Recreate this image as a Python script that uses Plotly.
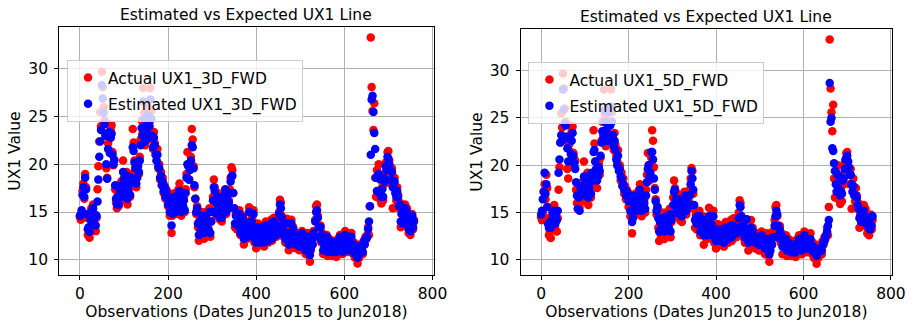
import plotly.graph_objects as go

obs = list(range(0, 760, 2))

# Actual UX1 value
actual_ux1 = [
    14.5, 14.2, 15.0, 17.2, 18.0, 16.4, 19.0, 17.6, 14.4, 12.6,
    13.0, 12.3, 14.2, 15.4, 14.6, 15.8, 13.6, 14.8, 13.0, 14.4,
    17.4, 19.8, 22.4, 25.5, 24.0, 29.7, 28.1, 26.0, 24.6, 23.0,
    19.6, 18.6, 22.2, 24.2, 21.4, 23.6, 24.1, 21.3, 19.9, 20.5,
    17.4, 16.0, 15.4, 16.8, 15.6, 17.8, 16.4, 18.2, 16.9, 20.4,
    18.6, 16.2, 17.6, 19.2, 15.8, 17.2, 18.4, 16.6, 19.0, 18.0,
    23.7, 22.3, 20.4, 19.6, 17.6, 18.8, 20.2, 19.0, 20.8, 22.6,
    24.6, 23.2, 28.0, 25.4, 22.0, 24.8, 23.4, 26.0, 22.6, 24.4,
    28.0, 25.6, 23.0, 21.6, 23.4, 22.2, 21.0, 20.4, 21.6, 19.6,
    20.0, 18.4, 19.2, 17.8, 18.6, 17.0, 17.8, 16.4, 17.4, 16.6,
    15.6, 17.0, 14.6, 16.2, 12.8, 14.6, 16.8, 15.4, 17.0, 14.8,
    16.6, 15.0, 17.4, 18.0, 16.0, 14.6, 17.2, 15.6, 16.4, 15.0,
    17.4, 19.0, 21.3, 20.0, 18.4, 19.6, 20.8, 23.7, 22.6, 19.8,
    17.6, 16.4, 14.8, 15.6, 13.4, 12.0, 14.2, 12.6, 15.0, 13.4,
    14.6, 12.2, 13.8, 15.0, 12.6, 14.2, 13.0, 15.4, 12.4, 14.0,
    15.2, 16.6, 18.4, 17.6, 16.2, 14.6, 17.0, 15.4, 16.4, 14.2,
    15.8, 14.0, 16.6, 15.0, 17.2, 16.0, 14.8, 16.8, 15.4, 16.2,
    17.4, 18.6, 19.7, 19.4, 17.0, 15.4, 13.4, 14.8, 13.2, 15.0,
    13.8, 15.2, 12.6, 14.4, 13.2, 14.6, 11.6, 13.6, 12.4, 14.0,
    12.2, 13.0, 15.5, 13.6, 12.4, 14.4, 13.0, 15.2, 11.8, 13.2,
    11.2, 12.6, 13.8, 12.0, 13.2, 11.6, 12.8, 13.6, 12.2, 11.4,
    12.8, 14.0, 12.4, 13.4, 11.8, 13.8, 12.6, 14.2, 12.0, 13.4,
    14.4, 12.8, 13.6, 12.4, 14.0, 13.2, 15.0, 16.3, 16.0, 14.6,
    13.2, 12.4, 14.0, 11.8, 12.8, 14.3, 12.2, 11.0, 13.0, 12.0,
    14.2, 12.6, 13.4, 11.6, 12.4, 11.2, 12.8, 11.8, 12.4, 11.0,
    12.6, 11.4, 13.0, 12.2, 11.0, 12.4, 10.6, 11.8, 12.8, 11.2,
    10.4, 9.8, 11.0, 12.2, 11.6, 13.0, 12.4, 14.2, 15.6, 15.8,
    14.6, 13.4, 12.2, 13.6, 11.8, 12.8, 10.6, 11.6, 12.4, 11.2,
    12.6, 10.4, 11.8, 12.2, 10.8, 11.4, 10.4, 12.0, 11.0, 10.6,
    11.8, 10.3, 11.2, 12.2, 11.0, 12.6, 10.8, 11.6, 10.6, 11.8,
    12.6, 13.0, 11.8, 12.4, 10.8, 11.6, 12.2, 11.0, 12.8, 11.4,
    10.6, 11.8, 10.2, 11.2, 10.4, 9.6, 11.0, 10.2, 11.6, 10.8,
    11.4, 10.6, 12.0, 11.6, 12.4, 12.2, 12.6, 13.4, 12.6, 15.6,
    33.3, 28.1, 25.6, 23.6, 26.4, 18.6, 16.6, 19.4, 17.2, 20.0,
    16.4, 18.8, 15.9, 17.6, 16.2, 19.0, 18.0, 20.2, 19.4, 21.3,
    21.4, 20.4, 19.2, 18.0, 19.6, 15.4, 17.8, 18.6, 17.0, 16.2,
    17.6, 16.8, 15.4, 16.0, 13.4, 14.8, 13.6, 15.2, 14.2, 15.8,
    13.6, 15.4, 14.0, 12.8, 14.6, 12.6, 13.4, 14.8, 13.2, 14.2,
]

# Estimated UX1, 3-day forward model
estimated_3d = [
    14.6, 14.6, 15.2, 16.8, 17.6, 16.6, 18.6, 17.4, 14.8, 13.2,
    13.4, 12.9, 14.2, 15.0, 14.6, 15.4, 14.0, 14.6, 13.6, 14.6,
    16.1, 18.4, 20.8, 22.4, 23.6, 28.3, 26.9, 25.4, 24.2, 23.0,
    20.0, 18.5, 21.6, 23.4, 21.2, 22.8, 23.2, 21.0, 20.0, 20.4,
    17.8, 16.4, 15.8, 16.6, 15.8, 17.4, 16.6, 17.8, 17.0, 19.2,
    18.4, 16.6, 17.4, 18.8, 16.4, 17.4, 18.0, 16.8, 18.6, 18.2,
    21.8, 21.4, 20.2, 19.6, 18.0, 18.6, 19.8, 19.2, 20.4, 22.0,
    23.8, 23.0, 26.6, 24.8, 22.4, 24.2, 23.4, 25.2, 22.8, 24.0,
    26.8, 24.8, 23.0, 21.8, 22.8, 22.0, 21.0, 20.4, 21.0, 19.8,
    19.6, 18.6, 18.8, 17.8, 18.2, 17.2, 17.6, 16.6, 17.2, 16.6,
    15.8, 16.6, 15.0, 16.0, 13.6, 14.8, 16.4, 15.6, 16.6, 15.0,
    16.4, 15.2, 17.0, 17.2, 16.0, 15.0, 16.8, 15.6, 16.2, 15.2,
    17.0, 18.6, 20.0, 19.8, 18.4, 19.4, 20.4, 22.0, 21.8, 19.6,
    17.8, 16.4, 15.0, 15.4, 13.8, 12.6, 14.0, 13.0, 14.6, 13.6,
    14.4, 12.8, 13.6, 14.6, 13.0, 14.0, 13.2, 15.0, 12.8, 14.0,
    15.0, 16.2, 17.6, 17.2, 16.0, 14.8, 16.6, 15.4, 16.0, 14.4,
    15.6, 14.4, 16.2, 15.0, 16.8, 17.4, 15.0, 16.4, 15.4, 16.0,
    17.0, 18.2, 18.7, 18.8, 17.0, 15.4, 13.8, 14.6, 13.6, 14.8,
    13.8, 14.8, 12.8, 14.2, 13.2, 14.4, 12.2, 13.4, 12.6, 13.8,
    12.4, 13.0, 15.0, 13.6, 12.6, 14.0, 13.0, 14.8, 12.2, 13.2,
    11.8, 12.6, 13.4, 12.2, 13.0, 11.8, 12.8, 13.4, 12.2, 11.8,
    12.8, 13.6, 12.4, 13.2, 12.0, 13.6, 12.6, 13.8, 12.2, 13.2,
    14.0, 12.8, 13.4, 12.6, 13.6, 13.2, 14.8, 15.8, 15.4, 14.4,
    13.4, 12.6, 13.8, 12.2, 12.8, 13.8, 12.4, 11.6, 12.8, 12.0,
    13.8, 12.6, 13.2, 11.8, 12.4, 11.6, 12.6, 12.0, 12.4, 11.4,
    12.4, 11.6, 12.8, 12.2, 11.4, 12.2, 11.0, 11.8, 12.4, 11.4,
    10.8, 10.5, 11.2, 12.0, 11.6, 12.8, 12.4, 14.0, 15.0, 15.2,
    14.4, 13.4, 12.4, 13.4, 12.0, 12.6, 11.0, 11.6, 12.2, 11.4,
    12.4, 10.8, 11.6, 12.0, 11.0, 11.4, 10.8, 11.8, 11.0, 10.8,
    11.6, 10.8, 11.2, 12.0, 11.2, 12.4, 11.0, 11.6, 10.8, 11.6,
    12.4, 12.6, 11.8, 12.2, 11.0, 11.6, 12.0, 11.2, 12.4, 11.4,
    10.8, 11.6, 10.6, 11.2, 10.6, 10.2, 11.0, 10.6, 11.4, 10.8,
    11.4, 10.8, 11.8, 11.6, 12.2, 12.2, 12.4, 13.2, 14.0, 15.6,
    21.0, 26.8, 27.2, 25.5, 23.3, 21.6, 18.6, 17.2, 18.8, 19.0,
    17.0, 18.4, 16.6, 17.4, 16.6, 18.6, 18.2, 19.8, 19.4, 20.8,
    20.6, 20.0, 19.4, 18.4, 19.2, 17.6, 17.6, 18.2, 17.0, 16.6,
    17.2, 16.6, 15.6, 15.8, 14.0, 14.8, 13.8, 15.0, 14.2, 15.4,
    13.8, 15.0, 14.0, 13.2, 14.4, 13.0, 13.6, 14.6, 13.4, 14.0,
]

# Estimated UX1, 5-day forward model
estimated_5d = [
    14.8, 15.2, 16.4, 17.2, 19.2, 17.0, 18.0, 15.6, 13.8, 13.4,
    13.8, 13.4, 14.2, 15.0, 14.8, 15.2, 13.8, 14.6, 14.2, 15.2,
    19.2, 20.6, 22.4, 23.2, 22.6, 28.0, 25.9, 24.4, 24.2, 23.0,
    21.8, 20.4, 22.8, 23.0, 21.2, 22.6, 23.4, 21.0, 20.2, 19.6,
    18.2, 16.8, 15.4, 16.6, 15.2, 17.6, 16.8, 17.8, 17.2, 18.8,
    18.6, 16.8, 17.2, 18.8, 16.6, 17.6, 18.2, 17.0, 19.2, 18.4,
    21.4, 21.6, 20.4, 19.6, 18.4, 18.8, 19.8, 19.4, 21.0, 22.4,
    23.6, 22.8, 25.8, 24.6, 22.6, 23.8, 23.2, 25.6, 22.6, 24.2,
    26.2, 24.6, 23.2, 22.0, 22.6, 21.6, 20.6, 20.0, 21.0, 19.4,
    19.6, 18.8, 18.6, 17.8, 18.0, 17.4, 17.4, 16.8, 17.2, 16.8,
    16.2, 16.8, 15.2, 16.2, 14.0, 14.4, 16.6, 15.8, 16.8, 15.2,
    16.6, 15.4, 16.8, 17.4, 16.2, 15.2, 16.6, 15.8, 16.0, 15.4,
    16.8, 18.2, 19.6, 20.0, 18.8, 19.2, 21.4, 21.4, 20.6, 18.6,
    17.4, 16.2, 15.2, 15.6, 14.4, 13.0, 14.0, 13.2, 14.4, 13.8,
    14.2, 13.0, 13.4, 14.6, 13.2, 13.8, 13.4, 14.8, 13.0, 14.2,
    14.8, 15.8, 17.2, 17.4, 16.4, 15.0, 16.4, 15.6, 15.8, 14.8,
    15.4, 14.6, 16.0, 15.2, 16.6, 16.8, 15.2, 16.2, 15.6, 15.8,
    16.8, 18.0, 19.4, 18.6, 17.4, 15.8, 14.2, 14.4, 13.8, 14.6,
    14.0, 14.6, 13.0, 14.0, 13.4, 14.2, 12.6, 13.2, 12.8, 13.6,
    12.6, 12.8, 14.6, 13.8, 12.8, 13.8, 13.2, 14.6, 12.4, 13.0,
    12.0, 12.4, 13.2, 12.4, 12.8, 12.0, 12.6, 13.2, 12.4, 11.8,
    12.6, 13.4, 12.6, 13.0, 12.2, 13.4, 12.8, 13.6, 12.4, 13.0,
    13.6, 13.0, 13.2, 12.8, 13.4, 13.2, 14.4, 15.8, 15.6, 14.6,
    13.6, 12.8, 13.6, 12.4, 12.8, 14.3, 12.6, 11.8, 12.6, 12.2,
    13.4, 12.8, 13.0, 12.0, 12.4, 11.8, 12.4, 12.0, 12.2, 11.6,
    12.2, 11.8, 12.6, 12.2, 11.6, 12.0, 11.2, 11.6, 12.2, 11.6,
    11.0, 10.6, 11.0, 11.8, 11.6, 12.4, 12.4, 13.6, 14.6, 15.2,
    14.8, 13.6, 12.6, 13.2, 12.2, 12.6, 11.4, 11.6, 12.0, 11.6,
    12.2, 11.0, 11.4, 11.8, 11.2, 11.2, 10.8, 11.6, 11.2, 10.8,
    11.4, 10.8, 11.0, 11.8, 11.4, 12.2, 11.2, 11.4, 11.0, 11.4,
    12.2, 12.6, 12.0, 12.0, 11.2, 11.4, 11.8, 11.4, 12.2, 11.6,
    11.0, 11.4, 10.8, 11.0, 10.8, 10.4, 10.8, 10.8, 11.2, 11.0,
    11.2, 11.0, 11.6, 11.8, 12.0, 12.4, 12.6, 13.0, 13.6, 14.2,
    28.7, 24.6, 25.0, 21.8, 21.5, 20.2, 19.4, 18.0, 17.2, 19.0,
    17.6, 18.8, 16.8, 17.2, 17.0, 18.4, 18.6, 19.6, 20.6, 20.8,
    21.0, 20.4, 19.8, 19.0, 19.0, 18.0, 17.2, 17.8, 16.8, 16.8,
    16.8, 16.6, 15.8, 15.4, 14.4, 14.6, 14.0, 14.8, 14.4, 15.2,
    14.0, 14.6, 14.2, 13.6, 14.2, 13.4, 13.2, 14.4, 13.6, 14.6,
]

title_text = "Estimated vs Expected UX1 Line"
x_label = "Observations (Dates Jun2015 to Jun2018)"
y_label = "UX1 Value"
x_ticks = [0, 200, 400, 600, 800]
y_ticks = [10, 15, 20, 25, 30]

FONT = "DejaVu Sans, Verdana, sans-serif"
FS = 15.5
W, H = 922, 322
MS = 8.5

fig = go.Figure()

panels = [
    ("x", "y", "legend", "Actual UX1_3D_FWD", "Estimated UX1_3D_FWD", estimated_3d),
    ("x2", "y2", "legend2", "Actual UX1_5D_FWD", "Estimated UX1_5D_FWD", estimated_5d),
]
for xa, ya, lg, an, en, est in panels:
    fig.add_trace(go.Scatter(
        x=obs, y=actual_ux1, mode="markers", name=an,
        marker=dict(color="#ff0000", size=MS, line=dict(width=0)),
        xaxis=xa, yaxis=ya, legend=lg, legendgroup=an,
    ))
    fig.add_trace(go.Scatter(
        x=obs, y=est, mode="markers", name=en,
        marker=dict(color="#0000ff", size=MS, line=dict(width=0)),
        xaxis=xa, yaxis=ya, legend=lg, legendgroup=en,
    ))

def px_x(p):
    return p / W

def px_y(p):
    return 1 - p / H

axis_common = dict(
    showgrid=True, gridcolor="#b0b0b0", gridwidth=0.8,
    showline=True, mirror=True, linecolor="#000000", linewidth=1,
    ticks="outside", ticklen=4, tickcolor="#000000",
    zeroline=False,
    tickfont=dict(family=FONT, size=FS, color="#000000"),
)

xr = [-47, 803]
yr = [8.4, 34.4]

fig.update_layout(
    width=W, height=H,
    margin=dict(l=0, r=0, t=0, b=0),
    paper_bgcolor="white", plot_bgcolor="white",
    font=dict(family=FONT, size=FS, color="#000000"),
    xaxis=dict(domain=[px_x(60), px_x(440)], range=xr, tickvals=x_ticks, anchor="y",
               title=dict(text=x_label, standoff=3, font=dict(size=FS)), **axis_common),
    yaxis=dict(domain=[px_y(275), px_y(27)], range=yr, tickvals=y_ticks, anchor="x",
               ticklabelstandoff=3,
               title=dict(text=y_label, standoff=3, font=dict(size=FS)), **axis_common),
    xaxis2=dict(domain=[px_x(528), px_x(905)], range=xr, tickvals=x_ticks, anchor="y2",
                title=dict(text=x_label, standoff=3, font=dict(size=FS)), **axis_common),
    yaxis2=dict(domain=[px_y(275), px_y(29)], range=yr, tickvals=y_ticks, anchor="x2",
                ticklabelstandoff=3,
                title=dict(text=y_label, standoff=3, font=dict(size=FS)), **axis_common),
    legend=dict(x=px_x(68), y=px_y(60), xanchor="left", yanchor="top",
                bgcolor="rgba(255,255,255,0.8)", bordercolor="#cccccc", borderwidth=1,
                font=dict(family=FONT, size=FS, color="#000000"), tracegroupgap=3),
    legend2=dict(x=px_x(536), y=px_y(62), xanchor="left", yanchor="top",
                 bgcolor="rgba(255,255,255,0.8)", bordercolor="#cccccc", borderwidth=1,
                 font=dict(family=FONT, size=FS, color="#000000"), tracegroupgap=3),
    annotations=[
        dict(text=title_text, x=px_x(250), y=px_y(15), xref="paper", yref="paper",
             showarrow=False, xanchor="center", yanchor="middle",
             font=dict(family=FONT, size=FS, color="#000000")),
        dict(text=title_text, x=px_x(716), y=px_y(17), xref="paper", yref="paper",
             showarrow=False, xanchor="center", yanchor="middle",
             font=dict(family=FONT, size=FS, color="#000000")),
    ],
)

fig.write_html(
    "out.html",
    config={"displayModeBar": False},
    post_script="document.body.style.margin='0';document.body.style.overflow='hidden';",
)
